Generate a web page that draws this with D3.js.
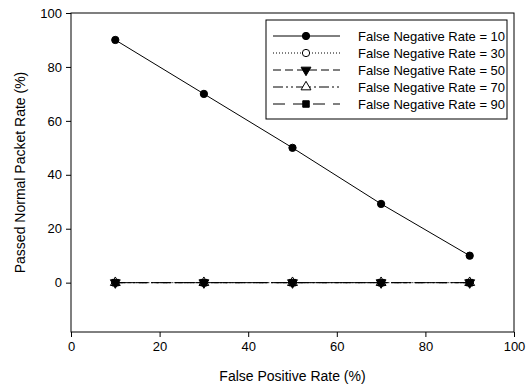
<!DOCTYPE html>
<html>
<head>
<meta charset="utf-8">
<script src="https://cdn.jsdelivr.net/npm/d3@7"></script>
<style>
body { margin: 0; background: #fff; }
text { font-family: Arial, "Liberation Sans", sans-serif; fill: #000; }
</style>
</head>
<body>
<svg id="chart" width="530" height="386"></svg>
<script>
// data
var fpRates = [10, 30, 50, 70, 90];
var seriesNames = ["False Negative Rate = 10", "False Negative Rate = 30", "False Negative Rate = 50", "False Negative Rate = 70", "False Negative Rate = 90"];
var fn10 = [90, 70, 50, 29.2, 10];
var fn30 = [0, 0, 0, 0, 0];
var fn50 = [0, 0, 0, 0, 0];
var fn70 = [0, 0, 0, 0, 0];
var fn90 = [0, 0, 0, 0, 0];
var xTicks = [0, 20, 40, 60, 80, 100];
var yTicks = [0, 20, 40, 60, 80, 100];

var allSeries = [fn10, fn30, fn50, fn70, fn90];
var dashes = [null, "1,2", "8,4", "10,3,2,3,2,3", "12,8"];
var symbols = [
	{type: d3.symbolCircle, fill: "#000", rot: 0},
	{type: d3.symbolCircle, fill: "#fff", rot: 0},
	{type: d3.symbolTriangle, fill: "#000", rot: 180},
	{type: d3.symbolTriangle, fill: "#fff", rot: 0},
	{type: d3.symbolSquare, fill: "#000", rot: 0}
];

var svg = d3.select("#chart"),
	margin = {top: 13, right: 16, bottom: 54, left: 71},
	width = svg.attr("width") - margin.left - margin.right,
	height = svg.attr("height") - margin.top - margin.bottom;

var g = svg.append("g").attr("transform", "translate(" + margin.left + "," + margin.top + ")");

var x = d3.scaleLinear().domain([0, 100]).range([0, width]);
var y = d3.scaleLinear().domain([-18.3, 100]).range([height, 0]);

// frame
g.append("rect")
	.attr("width", width)
	.attr("height", height)
	.attr("fill", "none")
	.attr("stroke", "#000")
	.attr("stroke-width", 1);

var xAxis = g.append("g")
	.attr("transform", "translate(0," + height + ")")
	.call(d3.axisBottom(x).tickValues(xTicks).tickSize(5).tickPadding(5).tickSizeOuter(0));
var yAxis = g.append("g")
	.call(d3.axisLeft(y).tickValues(yTicks).tickSize(5).tickPadding(4).tickSizeOuter(0));

[xAxis, yAxis].forEach(function(a) {
	a.select(".domain").remove();
	a.selectAll("text").style("font-size", "13px").style("font-family", "Arial, 'Liberation Sans', sans-serif");
	a.selectAll("line").attr("stroke", "#000");
});

g.append("text")
	.attr("x", width / 2)
	.attr("y", height + 49)
	.attr("text-anchor", "middle")
	.style("font-size", "14px")
	.text("False Positive Rate (%)");

g.append("text")
	.attr("transform", "rotate(-90)")
	.attr("x", -height / 2)
	.attr("y", -46)
	.attr("text-anchor", "middle")
	.style("font-size", "14px")
	.text("Passed Normal Packet Rate (%)");

var line = d3.line()
	.x(function(d, i) { return x(fpRates[i]); })
	.y(function(d) { return y(d); });

function drawSymbol(sel, k, size) {
	sel.attr("d", d3.symbol().type(symbols[k].type).size(size))
		.attr("fill", symbols[k].fill)
		.attr("stroke", "#000")
		.attr("stroke-width", 1);
}

allSeries.forEach(function(s, k) {
	g.append("path")
		.attr("d", line(s))
		.attr("fill", "none")
		.attr("stroke", "#000")
		.attr("stroke-width", 1)
		.attr("stroke-dasharray", dashes[k]);
	g.selectAll(".pt" + k)
		.data(s)
		.enter().append("path")
		.attr("class", "pt" + k)
		.attr("transform", function(d, i) { return "translate(" + x(fpRates[i]) + "," + y(d) + ") rotate(" + symbols[k].rot + ")"; })
		.call(drawSymbol, k, 42);
});

// legend
var legend = svg.append("g").attr("transform", "translate(266,20)");
legend.append("rect")
	.attr("width", 241)
	.attr("height", 99)
	.attr("fill", "#fff")
	.attr("stroke", "#000")
	.attr("stroke-width", 1);

seriesNames.forEach(function(name, k) {
	var row = legend.append("g").attr("transform", "translate(0," + (16 + k * 17) + ")");
	row.append("line")
		.attr("x1", 7).attr("x2", 74)
		.attr("stroke", "#000")
		.attr("stroke-dasharray", dashes[k]);
	row.append("path")
		.attr("transform", "translate(40,0) rotate(" + symbols[k].rot + ")")
		.call(drawSymbol, k, 42);
	row.append("text")
		.attr("x", 92)
		.attr("dy", "0.35em")
		.style("font-size", "13px")
		.text(name);
});
</script>
</body>
</html>
